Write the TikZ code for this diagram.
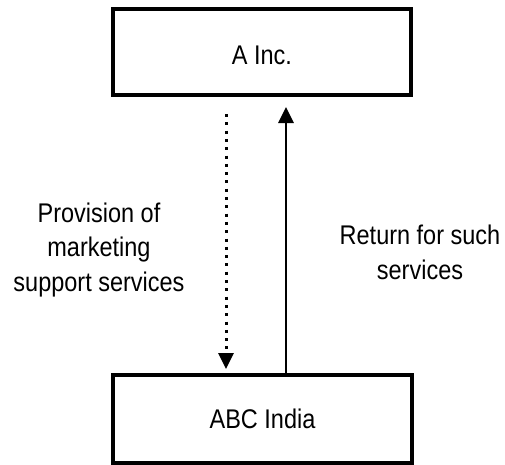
\documentclass[tikz,border=0pt]{standalone}
\usepackage{fontspec}
\setmainfont{Liberation Sans}[FakeStretch=0.87]
\usetikzlibrary{arrows.meta}
\tikzset{
  boxnode/.style={draw=black, line width=4pt, inner sep=0pt, font=\fontsize{27}{34.5}\selectfont},
  lbl/.style={inner sep=0pt, align=center, font=\fontsize{27}{34.5}\selectfont},
  solidarrow/.style={line width=2.8pt, -{Triangle[length=16pt,width=15pt]}},
  dotarrow/.style={line width=3pt, dash pattern=on 3pt off 5.3pt, -{Triangle[length=16pt,width=15pt]}}
}
\begin{document}
\begin{tikzpicture}[x=1pt,y=-1pt]
\useasboundingbox (0,0) rectangle (505,464);
\node[boxnode, minimum width=298pt, minimum height=86pt, text height=24pt, text depth=0pt] (top) at (262,52) {A Inc.};
\node[boxnode, minimum width=299pt, minimum height=88pt] (bot) at (262.5,419) {ABC India};
\draw[dotarrow] ([xshift=-36pt,yshift=-17pt]top.south) -- ([xshift=-36.5pt,yshift=4pt]bot.north);
\draw[solidarrow] ([xshift=23.5pt]bot.north) -- ([xshift=24pt,yshift=-10pt]top.south);
\node[lbl] (left) at (99,250) {Provision of\\marketing\\support services};
\node[lbl] (right) at (420,252.2) {Return for such\\services};
\end{tikzpicture}
\end{document}
